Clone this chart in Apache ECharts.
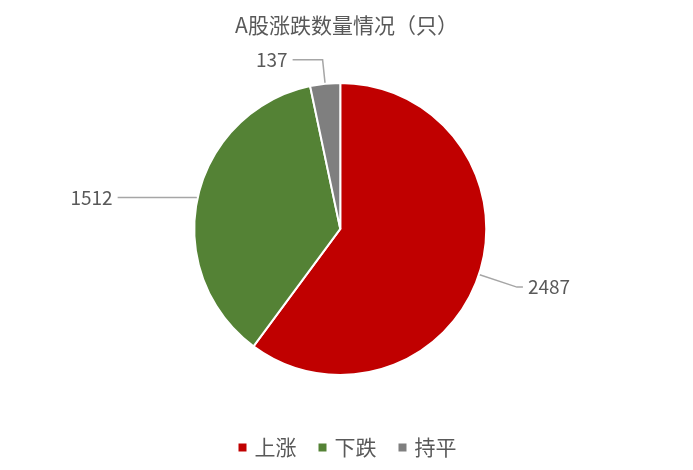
<!DOCTYPE html>
<html><head><meta charset="utf-8">
<script src="https://cdn.jsdelivr.net/npm/echarts@6/dist/echarts.min.js"></script>
<style>html,body{margin:0;padding:0;background:#fff}#c{width:693px;height:470px}</style>
</head><body><div id="c"></div>
<script>
const titleText = 'A股涨跌数量情况（只）';
const categories = ['上涨', '下跌', '持平'];
const values = [2487, 1512, 137];
const colors = ['#C00000', '#548235', '#7F7F7F'];
const lineLen = [40, 2, 24];
const lineLen2 = [6, 78, 30];

const chart = echarts.init(document.getElementById('c'));
const font = '"Noto Sans CJK SC", "Noto Sans", sans-serif';
chart.setOption({
  animation: false,
  title: { text: titleText, left: 'center', top: 10,
    textStyle: { fontFamily: font, fontSize: 21, fontWeight: 'normal', color: '#595959' } },
  legend: { bottom: 7, left: 'center', icon: 'rect', itemWidth: 10, itemHeight: 10, itemGap: 20,
    textStyle: { fontFamily: font, fontSize: 21, color: '#595959', padding: [0, 0, 0, 2] }, data: categories },
  series: [{
    type: 'pie', center: ['49.1%', '48.7%'], radius: 146, startAngle: 90, clockwise: true,
    itemStyle: { borderColor: '#fff', borderWidth: 2 },
    label: { show: true, formatter: '{c}', fontFamily: font, fontSize: 19, color: '#595959',
      distanceToLabelLine: 5, padding: [6, 0, 0, 0] },
    labelLine: { show: true, lineStyle: { color: '#A6A6A6', width: 1.5 } },
    data: categories.map((n, i) => ({ name: n, value: values[i], itemStyle: { color: colors[i] },
      labelLine: { length: lineLen[i], length2: lineLen2[i] } }))
  }]
});
</script></body></html>
